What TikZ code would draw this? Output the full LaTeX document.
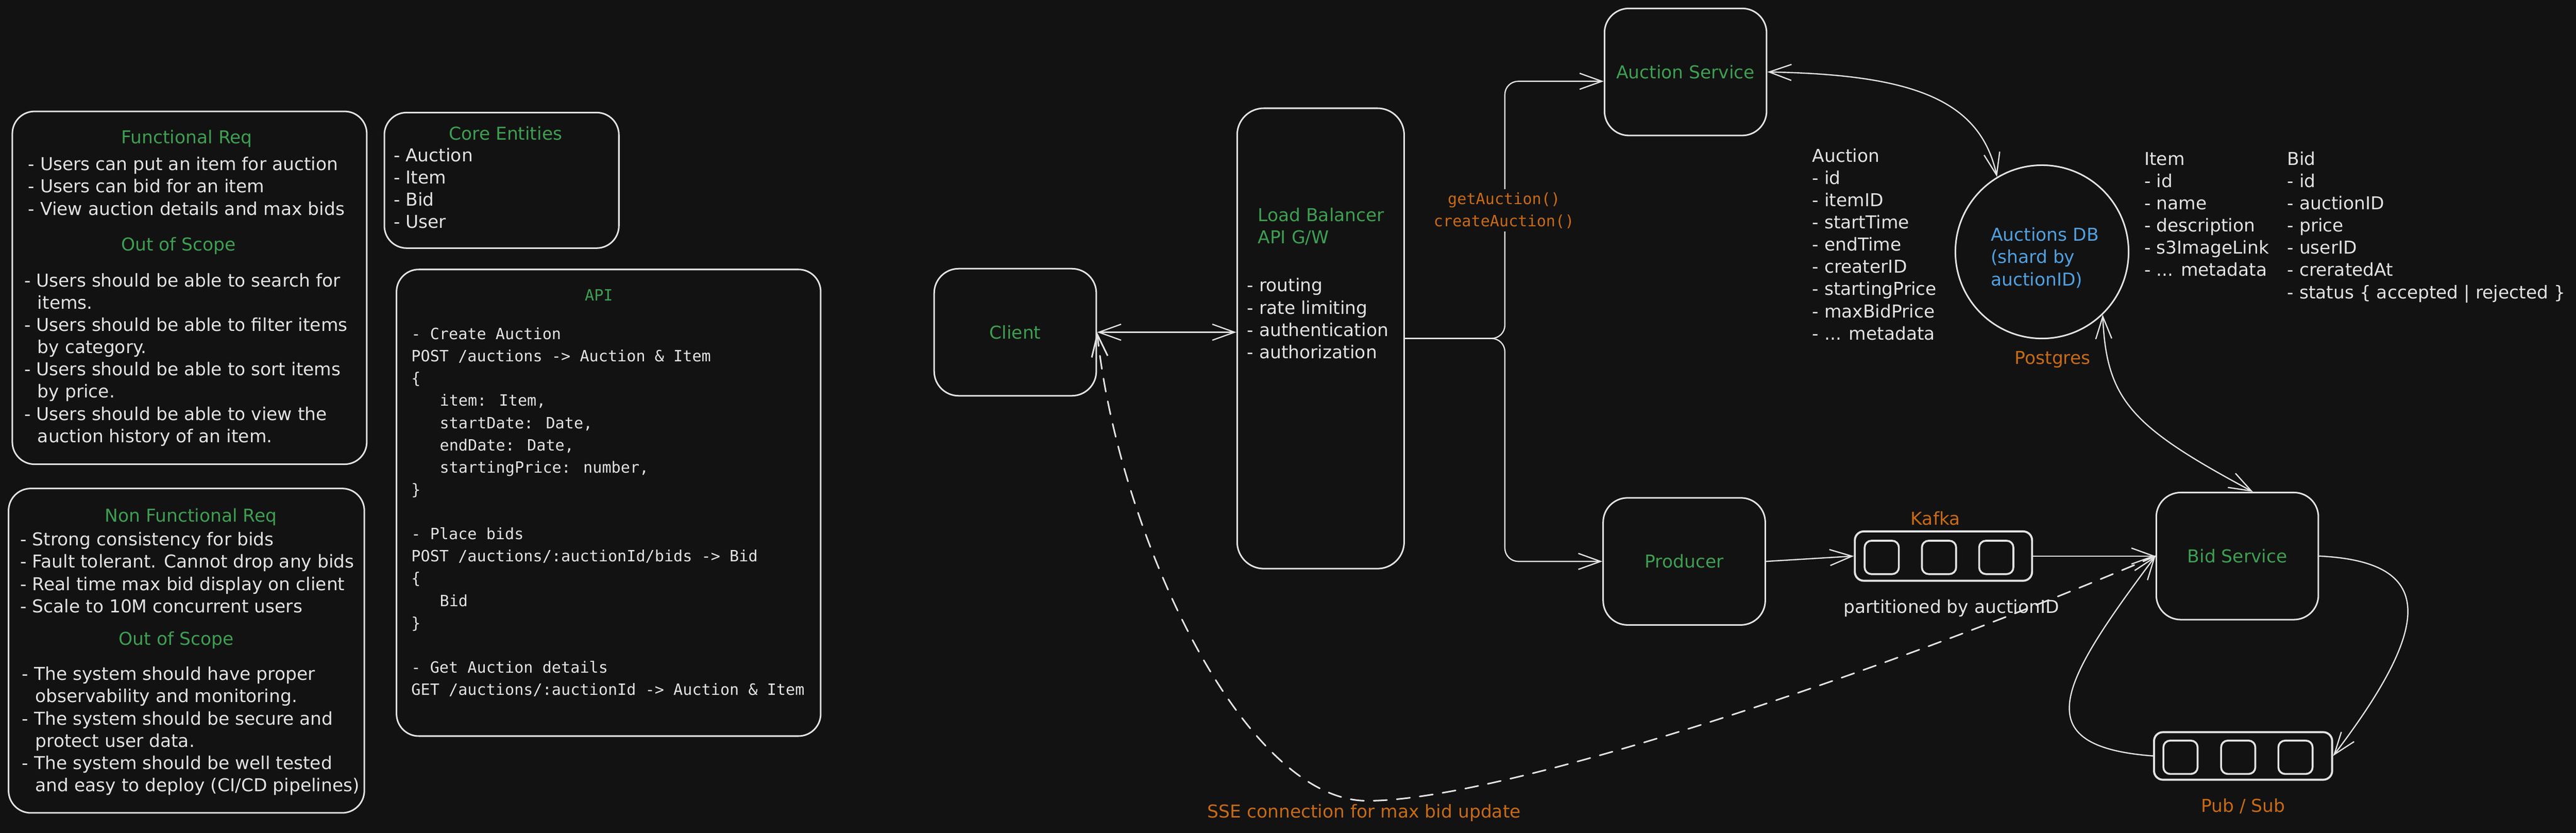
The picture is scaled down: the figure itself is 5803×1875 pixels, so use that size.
\documentclass[tikz,border=0pt]{standalone}
\usepackage{fontspec}
\setmainfont{DejaVu Sans}
\newfontfamily\codefont{DejaVu Sans Mono}
\usetikzlibrary{arrows.meta}
\definecolor{bg}{HTML}{121212}
\definecolor{ink}{HTML}{E3E3E3}
\definecolor{grn}{HTML}{3DA052}
\definecolor{org}{HTML}{C96B12}
\definecolor{blu}{HTML}{4FA2E2}
\newcommand{\handfs}{\fontsize{11.38pt}{14.23pt}\selectfont}
\newcommand{\codefs}{\codefont\fontsize{9.96pt}{14.23pt}\selectfont}
\newcommand{\itemgap}{\hspace*{0.3cm}}
\newcommand{\codegap}{\hspace*{0.64cm}}

\begin{document}
\begin{tikzpicture}[x=0.01cm,y=-0.01cm,line cap=round,line join=round,
  >={Straight Barb[length=0.5cm,width=0.36cm]},
  panelbox/.style={draw=ink,line width=1pt,rounded corners=0.5cm,inner sep=0},
  svcbox/.style={draw=ink,line width=1pt,rounded corners=0.55cm,minimum width=3.65cm,minimum height=2.86cm,text=grn,font=\handfs},
  queuebox/.style={draw=ink,line width=1.3pt,rounded corners=0.2cm,inner sep=0},
  slotbox/.style={draw=ink,line width=1.2pt,rounded corners=0.15cm,minimum width=0.77cm,minimum height=0.75cm,inner sep=0},
  titletxt/.style={text=grn,font=\handfs,inner sep=0,anchor=base},
  listtxt/.style={text=ink,font=\handfs,inner sep=0,anchor=base west,align=left},
  codetxt/.style={text=ink,font=\codefs,inner sep=0,anchor=base west,align=left},
  tagtxt/.style={text=org,font=\handfs,inner sep=0,anchor=base},
  wire/.style={draw=ink,line width=0.8pt}]
\fill[bg] (0,0) rectangle (5803,1875);
\useasboundingbox (0,0) rectangle (5803,1875);
% requirements (list nodes sit on the baseline of their last line)
\node[panelbox,minimum width=7.98cm,minimum height=7.94cm] (freq) at (427,648) {};
\node[titletxt] (freqhead) at (421,323) {Functional Req};
\node[listtxt] (freqlist) at (63,484) {- Users can put an item for auction\\- Users can bid for an item\\- View auction details and max bids};
\node[titletxt] (freqscope) at (402,565) {Out of Scope};
\node[listtxt] (freqout) at (54,996) {- Users should be able to search for\\\itemgap items.\\- Users should be able to filter items\\\itemgap by category.\\- Users should be able to sort items\\\itemgap by price.\\- Users should be able to view the\\\itemgap auction history of an item.};
\node[panelbox,minimum width=8.01cm,minimum height=7.30cm] (nfr) at (420,1465) {};
\node[titletxt] (nfrhead) at (430,1175) {Non Functional Req};
\node[listtxt] (nfrlist) at (45,1379) {- Strong consistency for bids\\- Fault tolerant. Cannot drop any bids\\- Real time max bid display on client\\- Scale to 10M concurrent users};
\node[titletxt] (nfrscope) at (397,1453) {Out of Scope};
\node[listtxt] (nfrout) at (49,1782) {- The system should have proper\\\itemgap observability and monitoring.\\- The system should be secure and\\\itemgap protect user data.\\- The system should be well tested\\\itemgap and easy to deploy (CI/CD pipelines)};
% entities and api
\node[panelbox,minimum width=5.28cm,minimum height=3.05cm] (core) at (1130,406) {};
\node[titletxt] (corehead) at (1139,315) {Core Entities};
\node[listtxt] (corelist) at (886,514) {- Auction\\- Item\\- Bid\\- User};
\node[panelbox,minimum width=9.55cm,minimum height=10.5cm] (api) at (1371,1132) {};
\node[titletxt,font=\codefs] (apihead) at (1349,677) {API};
\node[codetxt] (apilist) at (926,1565) {- Create Auction\\POST /auctions -> Auction \& Item\\\{\\\codegap item: Item,\\\codegap startDate: Date,\\\codegap endDate: Date,\\\codegap startingPrice: number,\\\}\\[0.5cm]- Place bids\\POST /auctions/:auctionId/bids -> Bid\\\{\\\codegap Bid\\\}\\[0.5cm]- Get Auction details\\GET /auctions/:auctionId -> Auction \& Item};
% services
\node[svcbox] (client) at (2287,748) {Client};
\node[draw=ink,line width=1pt,rounded corners=0.6cm,minimum width=3.76cm,minimum height=10.36cm] (lb) at (2975,762) {};
\node[listtxt,text=grn] (lbhead) at (2833,548) {Load Balancer\\API G/W};
\node[listtxt] (lbduty) at (2809,807) {- routing\\- rate limiting\\- authentication\\- authorization};
\node[svcbox] (asvc) at (3797,162) {Auction Service};
\node[svcbox] (prod) at (3794,1264) {Producer};
\node[svcbox] (bsvc) at (5040,1252) {Bid Service};
\node[draw=ink,line width=1pt,circle,minimum size=3.9cm,inner sep=0] (db) at (4600,567) {};
\node[listtxt,text=blu] (dbname) at (4484,643) {Auctions DB\\(shard by\\auctionID)};
\node[tagtxt] (dbtag) at (4624,820) {Postgres};
\node[listtxt] (auctattr) at (4082,765) {Auction\\- id\\- itemID\\- startTime\\- endTime\\- createrID\\- startingPrice\\- maxBidPrice\\- ... metadata};
\node[listtxt] (itemattr) at (4830,622) {Item\\- id\\- name\\- description\\- s3ImageLink\\- ... metadata};
\node[listtxt] (bidattr) at (5152,672) {Bid\\- id\\- auctionID\\- price\\- userID\\- creratedAt\\- status \{ accepted | rejected \}};
% queues
\node[queuebox,minimum width=3.99cm,minimum height=1.11cm] (kafka) at (4378,1252) {};
\foreach \sx in {4239,4368,4497}
  \node[slotbox] (kslot\sx) at (\sx,1255) {};
\node[tagtxt] (kafkatag) at (4360,1182) {Kafka};
\node[listtxt,anchor=base] (kafkanote) at (4396,1381) {partitioned by auctionID};
\node[queuebox,minimum width=4.01cm,minimum height=1.07cm] (psub) at (5053,1702) {};
\foreach \sx in {4912,5042,5171}
  \node[slotbox] (pslot\sx) at (\sx,1705) {};
\node[tagtxt] (psubtag) at (5053,1828) {Pub / Sub};
% connectors
\draw[wire,<->] (client.east) -- (client.east -| lb.west);
\coordinate (fork) at ([xshift=2.25cm]lb.east);
\draw[wire,->,rounded corners=0.3cm] (lb.east) -- (fork) |- ([yshift=-0.21cm]asvc.west);
\draw[wire,->,rounded corners=0.3cm] (lb.east) -- (fork) |- (prod.west);
\node[text=org,font=\codefs,fill=bg,align=center,inner sep=2pt] (ops) at (3388,474) {getAuction()\\createAuction()};
\draw[wire,<->] (asvc.east) .. controls (4300,168) and (4460,220) .. (db.121);
\draw[wire,<->] (db.-46) .. controls (4745,900) and (4800,960) .. ([xshift=0.35cm]bsvc.north);
\draw[wire,->] (prod.east) -- (kafka.west);
\draw[wire,->] (kafka.east) -- (kafka.east -| bsvc.west);
\draw[wire,->] (bsvc.east) .. controls (5500,1265) and (5470,1420) .. (psub.east);
\draw[wire,->] (psub.west) .. controls (4560,1680) and (4640,1540) .. (bsvc.west);
\draw[wire,->,line width=1pt,dash pattern=on 0.3cm off 0.22cm] (bsvc.west) .. controls (4300,1490) and (3400,1803) .. (3080,1803) .. controls (2800,1803) and (2520,1200) .. (client.east);
\node[tagtxt] (ssetag) at (3073,1841) {SSE connection for max bid update};
\end{tikzpicture}
\end{document}
